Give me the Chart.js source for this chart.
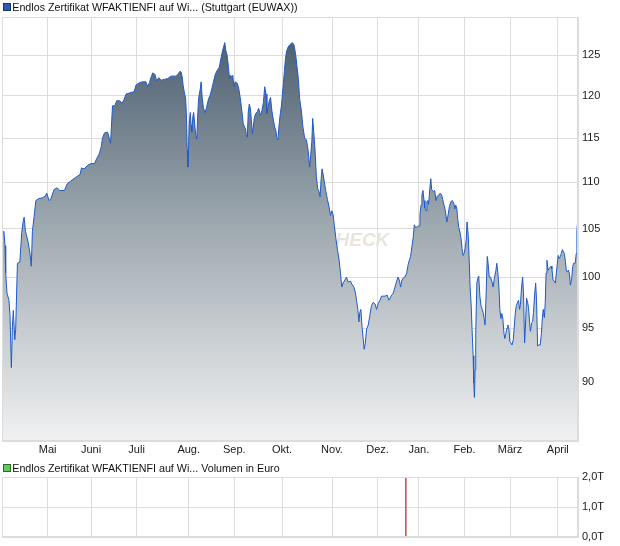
<!DOCTYPE html>
<html><head><meta charset="utf-8">
<script src="https://cdn.jsdelivr.net/npm/chart.js@4/dist/chart.umd.min.js"></script>
<style>
html,body{margin:0;padding:0;background:#fff;}
#w1{position:absolute;left:0;top:0;width:620px;height:460px;}
#w2{position:absolute;left:0;top:460px;width:620px;height:86px;}
</style></head><body>
<div id="w1"><canvas id="c1" width="620" height="460"></canvas></div>
<div id="w2"><canvas id="c2" width="620" height="86"></canvas></div>
<script>
// ---- data (x = trading day index) ----
const days = [
0,0.9,1.4,1.7,2.3,3.2,3.7,4.3,4.8,5.2,5.9,6.3,7.1,8.2,9.1,9.7,10.2,10.8,11.5,12.1,12.9,13.5,14.0,14.8,15.6,16.8,18.6,19.9,20.6,21.7,22.5,24.0,25.3,26.6,28.8,29.9,31.4,33.7,34.9,36.0,36.6,37.9,39.4,41.1,42.6,43.7,44.8,45.7,46.3,47.2,48.6,49.4,50.0,50.9,52.0,52.8,54.3,55.3,56.3,57.1,59.4,60.9,61.7,63.3,64.8,66.3,67.1,67.9,
68.7,69.4,70.5,71.2,72.2,73.3,74.8,76.3,77.9,80.2,80.9,82.0,82.5,83.0,83.4,84.0,84.6,85.0,85.3,85.6,85.9,86.2,86.7,87.1,87.4,87.9,88.3,88.8,89.2,89.7,90.2,90.6,91.3,91.7,92.2,92.8,93.6,94.2,95.1,95.9,96.6,97.4,98.2,99.1,100.1,100.7,101.3,102.0,102.6,103.1,103.7,104.3,104.8,105.3,105.9,106.3,106.8,107.4,108.4,109.1,109.7,110.2,110.7,111.1,111.7,112.2,112.5,113.0,113.4,113.9,114.4,114.8,115.3,115.7,116.3,116.9,117.6,118.2,118.7,119.1,119.7,120.4,121.0,121.6,122.0,122.5,123.1,123.7,124.3,125.0,125.6,126.2,126.6,127.1,127.6,128.2,128.7,129.1,129.6,130.1,130.5,131.0,131.7,132.5,133.7,134.5,
135.3,135.9,136.5,137.1,137.9,138.6,139.4,140.2,141.0,141.7,142.2,142.7,143.1,143.6,144.2,144.8,145.4,146.0,146.5,147.0,147.4,147.9,148.5,149.1,149.9,150.6,151.3,151.9,152.5,153.1,153.7,154.5,155.3,155.9,156.5,157.1,157.9,158.7,159.4,160.5,161.1,162.1,162.8,163.3,163.9,164.4,164.8,165.3,165.8,166.4,166.8,167.3,167.9,168.7,169.4,170.2,171.0,171.9,172.5,173.3,174.1,174.8,176.4,177.4,178.2,178.7,179.5,180.2,181.0,181.8,182.4,183.0,183.6,184.2,184.8,185.6,186.4,187.1,187.6,188.2,188.8,189.4,189.9,190.5,191.3,192.1,192.5,193.0,193.4,193.9,194.4,194.8,195.3,195.7,196.2,196.5,197.0,197.5,
197.9,198.7,199.3,199.9,200.5,201.2,201.8,202.5,203.0,203.6,204.2,204.9,205.5,206.1,206.8,207.4,208.1,208.6,209.0,209.5,209.9,210.4,211.0,211.5,211.9,212.4,212.8,213.3,213.8,214.2,214.7,215.2,215.6,216.1,216.5,217.0,217.3,217.6,217.9,218.2,218.7,219.2,219.6,220.1,220.6,221.2,221.6,222.1,222.5,223.0,223.5,223.9,224.4,225.0,225.6,226.2,226.8,227.5,227.9,228.4,228.9,229.3,229.8,230.2,230.7,231.2,231.6,232.1,232.6,233.0,233.5,233.9,234.4,234.9,235.5,235.9,236.4,236.9,237.5,237.9,238.4,238.8,239.3,239.8,240.2,240.7,241.1,241.6,242.1,242.5,243.0,243.4,243.9,244.4,244.8,245.3,245.8,246.2,246.7,247.3,247.9,248.4,248.9,249.3,249.8,250.2,250.6,251.0,251.5,252.1,252.9,253.3,253.8,254.4,254.9,255.3,255.8,256.2,256.7,257.2,257.6,258.1,258.6,259.0,259.5,259.9,260.4,260.9,261.3,261.8,262.4,262.9,263.3,264.0,264.5,264.8,265.3
];
const prices = [
104.5,104.7,103.2,100.4,98.4,97.7,96.2,91.3,95.2,96.7,93.9,94.9,101.4,101.5,104.6,105.7,106.2,104.7,104.1,103.5,102.4,101.1,104.7,106.3,108.0,108.2,108.3,108.5,108.8,108.0,108.2,109.2,109.4,109.1,109.1,109.8,110.1,110.5,110.7,110.9,111.6,111.5,111.9,112.1,112.1,112.7,113.2,114.0,115.0,115.6,115.7,115.0,114.4,118.8,118.8,119.4,119.4,119.1,119.6,120.2,120.4,120.5,121.3,121.6,121.7,121.7,121.1,121.6,
122.3,122.8,122.6,121.8,122.2,121.9,122.0,122.1,122.4,122.4,122.6,123.0,122.9,122.3,121.3,120.4,119.6,117.3,113.6,111.7,113.4,116.5,118.0,116.5,115.7,117.5,118.0,116.5,115.4,114.9,118.0,119.8,120.8,121.7,119.8,118.5,118.0,118.6,119.6,120.1,120.8,121.7,122.6,123.1,123.5,124.4,125.2,126.0,126.6,125.6,125.0,123.5,122.1,122.5,122.3,122.5,121.1,121.7,121.5,120.8,119.8,118.8,117.7,116.7,116.3,116.1,115.4,115.1,118.0,119.0,118.5,117.3,115.5,116.3,117.5,117.9,118.1,118.5,118.0,117.7,118.2,119.2,121.1,120.2,117.9,118.6,119.4,119.8,118.2,117.1,116.3,115.8,115.0,114.8,116.5,117.9,118.8,120.0,121.5,123.1,124.4,125.4,126.0,126.3,126.6,126.3,
125.0,123.5,122.1,119.6,118.2,116.3,115.0,114.8,113.6,111.7,113.1,114.6,117.3,115.7,113.6,110.6,109.3,109.0,108.4,110.4,111.5,110.9,110.0,109.1,108.1,107.4,106.4,106.9,106.5,105.3,104.1,102.8,101.7,100.4,99.0,99.4,99.7,100.0,99.5,99.6,99.3,99.0,98.4,97.7,96.8,95.6,96.5,96.8,95.2,93.9,93.0,93.5,94.9,95.3,96.2,97.2,97.5,97.3,96.8,97.4,97.7,98.1,98.1,98.2,97.7,97.9,98.2,98.4,99.0,99.6,100.0,99.7,99.0,99.7,99.9,100.0,100.4,101.3,101.7,102.1,103.1,104.1,105.4,105.1,105.2,105.3,106.5,107.5,108.6,109.1,108.0,107.2,106.9,107.9,108.0,107.6,109.2,110.4,
109.2,109.0,109.1,108.0,108.5,108.6,108.8,108.6,108.1,107.5,106.9,105.7,106.5,107.4,107.9,108.0,107.7,107.1,107.5,107.1,106.0,105.1,104.6,103.8,102.9,102.2,102.4,102.9,103.8,105.7,104.4,101.7,99.0,97.2,94.9,92.4,89.9,88.6,91.1,94.5,99.4,99.9,100.1,98.1,97.2,96.8,96.5,95.9,95.3,98.4,102.1,101.4,100.0,100.0,99.6,99.0,99.9,100.7,101.4,100.4,98.9,96.8,95.9,96.4,95.9,94.5,94.0,94.5,95.0,95.3,94.9,93.7,93.6,93.4,93.9,95.0,96.4,97.2,97.5,97.7,96.8,97.3,99.0,100.0,98.4,93.6,95.2,97.9,97.5,97.0,95.5,94.7,95.5,95.6,96.5,98.2,99.4,97.7,93.3,93.4,93.4,94.4,96.0,96.8,96.0,97.4,100.4,101.7,100.7,100.9,101.1,100.8,99.7,99.6,99.4,100.4,101.4,102.2,101.9,102.1,102.4,102.8,102.6,102.4,101.6,100.7,100.5,100.7,100.4,99.2,99.9,101.1,101.4,101.4,102.4,104.8,106.2
];
const monthTicks  = [21, 41, 62, 86, 107, 129, 152, 173, 192, 213, 234, 256];
const monthLabels = ['Mai','Juni','Juli','Aug.','Sep.','Okt.','Nov.','Dez.','Jan.','Feb.','März','April'];
const priceTicks  = [90, 95, 100, 105, 110, 115, 120, 125];
const volumeDays   = [186];
const volumeValues = [2.0e12];
const volumeTicks  = [0, 1e12, 2e12];
const priceTitle  = 'Endlos Zertifikat WFAKTIENFI auf Wi... (Stuttgart (EUWAX))';
const volumeTitle = 'Endlos Zertifikat WFAKTIENFI auf Wi... Volumen in Euro';
const watermark = 'AKTIENCHECK';

// ---- styling ----
Chart.defaults.font.family = 'Arial, "Liberation Sans", sans-serif';
Chart.defaults.font.size = 11;
Chart.defaults.color = '#1a1a1a';
const GRID = '#dcdcdc';

const boxPlugin = {
  id: 'box',
  afterDatasetsDraw(chart) {
    const a = chart.chartArea, c = chart.ctx;
    c.save();
    c.strokeStyle = GRID; c.lineWidth = 1;
    c.strokeRect(Math.round(a.left) + 0.5, Math.round(a.top) + 0.5,
                 Math.round(a.right - a.left) - 1, Math.round(a.bottom - a.top) - 1);
    c.restore();
  }
};
// simple series-key legend (box + title) drawn above the plot
const keyPlugin = {
  id: 'key',
  afterDraw(chart, args, opts) {
    const c = chart.ctx;
    c.save();
    c.fillStyle = opts.fill; c.strokeStyle = opts.stroke; c.lineWidth = 1;
    c.fillRect(3.5, opts.boxTop, 7, 7);
    c.strokeRect(3.5, opts.boxTop, 7, 7);
    c.fillStyle = '#111';
    c.font = '10.7px Arial, "Liberation Sans", sans-serif';
    c.textAlign = 'left'; c.textBaseline = 'alphabetic';
    c.fillText(opts.text, 12.3, opts.baseline);
    c.restore();
  }
};
const watermarkPlugin = {
  id: 'wm',
  beforeDatasetsDraw(chart) {
    const c = chart.ctx, x = chart.scales.x, y = chart.scales.y;
    c.save();
    c.font = 'italic bold 19px Arial, "Liberation Sans", sans-serif';
    c.fillStyle = '#e9e5de';
    c.textAlign = 'right';
    c.textBaseline = 'alphabetic';
    c.fillText(watermark, x.getPixelForValue(178.4), y.getPixelForValue(103.2));
    c.restore();
  }
};

const points = days.map((d, i) => ({x: d, y: prices[i]}));

new Chart(document.getElementById('c1'), {
  type: 'line',
  data: { datasets: [{
    data: points,
    borderColor: '#1d5ac8',
    borderWidth: 1,
    pointRadius: 0,
    tension: 0,
    fill: 'start',
    backgroundColor(ctx) {
      const a = ctx.chart.chartArea;
      if (!a) return 'rgba(0,0,0,0)';
      const g = ctx.chart.ctx.createLinearGradient(0, a.top, 0, a.bottom);
      g.addColorStop(0, '#44576a');
      g.addColorStop(0.5, '#a0aab1');
      g.addColorStop(1, '#f0f1f2');
      return g;
    }
  }]},
  options: {
    responsive: false, animation: false, devicePixelRatio: 1,
    layout: { padding: { left: 2, right: 0, top: 17, bottom: 0 } },
    plugins: {
      tooltip: { enabled: false },
      legend: { display: false },
      key: { text: priceTitle, fill: '#2b5bb5', stroke: '#1c3563', boxTop: 3.5, baseline: 11 }
    },
    scales: {
      x: {
        type: 'linear', min: 0, max: days[days.length - 1],
        afterBuildTicks: s => { s.ticks = monthTicks.map(v => ({ value: v })); },
        afterFit: s => { s.height = 19; },
        ticks: { autoSkip: false, maxRotation: 0, padding: 2, color: '#1a1a1a',
                 callback: v => { const i = monthTicks.indexOf(v); return i >= 0 ? monthLabels[i] : ''; } },
        grid: { color: GRID, drawTicks: false },
        border: { color: GRID }
      },
      y: {
        type: 'logarithmic', position: 'right', min: 84.8, max: 129.9,
        afterBuildTicks: s => { s.ticks = priceTicks.map(v => ({ value: v })); },
        afterFit: s => { s.width = 42; },
        ticks: { padding: 4, color: '#1a1a1a', callback: v => String(v) },
        grid: { color: GRID, drawTicks: false },
        border: { color: GRID }
      }
    }
  },
  plugins: [watermarkPlugin, boxPlugin, keyPlugin]
});

new Chart(document.getElementById('c2'), {
  type: 'bar',
  data: { datasets: [{
    data: volumeDays.map((d, i) => ({ x: d, y: volumeValues[i] })),
    backgroundColor: '#cc5a5e',
    barThickness: 1
  }]},
  options: {
    responsive: false, animation: false, devicePixelRatio: 1,
    layout: { padding: { left: 2, right: 0, top: 17, bottom: 9 } },
    plugins: {
      tooltip: { enabled: false },
      legend: { display: false },
      key: { text: volumeTitle, fill: '#5ecb5e', stroke: '#2b6a2b', boxTop: 4.5, baseline: 12 }
    },
    scales: {
      x: {
        type: 'linear', min: 0, max: days[days.length - 1], offset: false,
        afterBuildTicks: s => { s.ticks = monthTicks.map(v => ({ value: v })); },
        afterFit: s => { s.height = 0; s.paddingLeft = 0; s.paddingRight = 0; },
        ticks: { display: false },
        grid: { color: GRID, drawTicks: false, offset: false },
        border: { color: GRID }
      },
      y: {
        type: 'linear', position: 'right', min: 0, max: 2e12,
        afterBuildTicks: s => { s.ticks = volumeTicks.map(v => ({ value: v })); },
        afterFit: s => { s.width = 42; s.paddingTop = 0; s.paddingBottom = 0; },
        ticks: { padding: 4, color: '#1a1a1a', callback: v => (v / 1e12).toFixed(1).replace('.', ',') + 'T' },
        grid: { color: GRID, drawTicks: false },
        border: { color: GRID }
      }
    }
  },
  plugins: [boxPlugin, keyPlugin]
});
</script>
</body></html>
